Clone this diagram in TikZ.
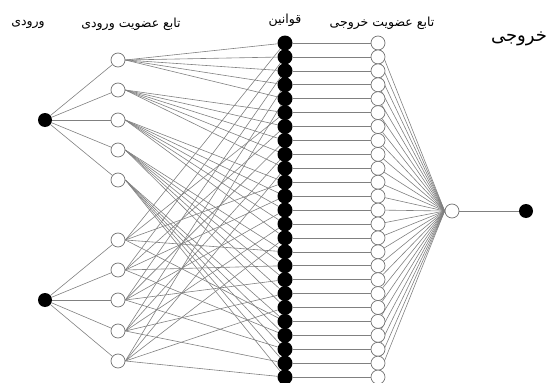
\documentclass[tikz,border=0pt]{standalone}
\usepackage{fontspec}
\newfontfamily\arabicfont[Script=Arabic]{DejaVu Sans}
\TeXXeTstate=1
\usetikzlibrary{backgrounds}
\begin{document}
\begin{tikzpicture}[x=1pt,y=-1pt,
  inp/.style={circle,fill=black,minimum size=14pt,inner sep=0pt},
  mf/.style={circle,draw=black!55,fill=white,minimum size=14pt,inner sep=0pt,line width=0.7pt},
  rulenode/.style={circle,fill=black,minimum size=15pt,inner sep=0pt},
  omf/.style={circle,draw=black!55,fill=white,minimum size=14pt,inner sep=0pt,line width=0.7pt},
  wire/.style={draw=black!50,line width=0.6pt},
  lbl/.style={font=\arabicfont\fontsize{12.5}{14}\selectfont,inner sep=0pt},
  biglbl/.style={font=\arabicfont\fontsize{18}{20}\selectfont,inner sep=0pt}]
\useasboundingbox (0,0) rectangle (550,383);
% inputs
\node[inp] (x1) at (45,120) {};
\node[inp] (x2) at (45,300) {};
% input membership functions
\foreach \i/\ya/\yb in {0/60/240,1/90/270,2/120/300,3/150/331,4/180/361} {
  \node[mf] (a\i) at (118,\ya) {};
  \node[mf] (b\i) at (118,\yb) {};
}
% rules and output membership functions
\foreach \k in {0,...,24} {
  \node[rulenode] (r\k) at (285,{43+\k*13.92}) {};
  \node[omf] (om\k) at (378,{43+\k*13.92}) {};
}
% output
\node[mf] (o) at (452,211) {};
\node[inp] (y) at (526,211) {};
% connectors
\begin{scope}[on background layer]
\foreach \i in {0,...,4} {
  \draw[wire] (x1) -- (a\i);
  \draw[wire] (x2) -- (b\i);
  \foreach \j in {0,...,4} {
    \pgfmathtruncatemacro\ka{5*\i+\j}
    \pgfmathtruncatemacro\kb{\i+5*\j}
    \draw[wire] (a\i.east) -- (r\ka);
    \draw[wire] (b\i.east) -- (r\kb);
  }
}
\foreach \k in {0,...,24} {
  \draw[wire] (r\k) -- (om\k);
  \draw[wire] (om\k) -- (o.west);
}
\draw[wire] (o) -- (y);
\end{scope}
% labels
\node[lbl] (l1) at (28,24) {\beginR ورودی\endR};
\node[lbl] (l2) at (131,24) {\beginR تابع عضویت ورودی\endR};
\node[lbl] (l3) at (285,20) {\beginR قوانین\endR};
\node[lbl] (l4) at (382,23) {\beginR تابع عضویت خروجی\endR};
\node[biglbl] (l5) at (519,39) {\beginR خروجی\endR};
\end{tikzpicture}
\end{document}
